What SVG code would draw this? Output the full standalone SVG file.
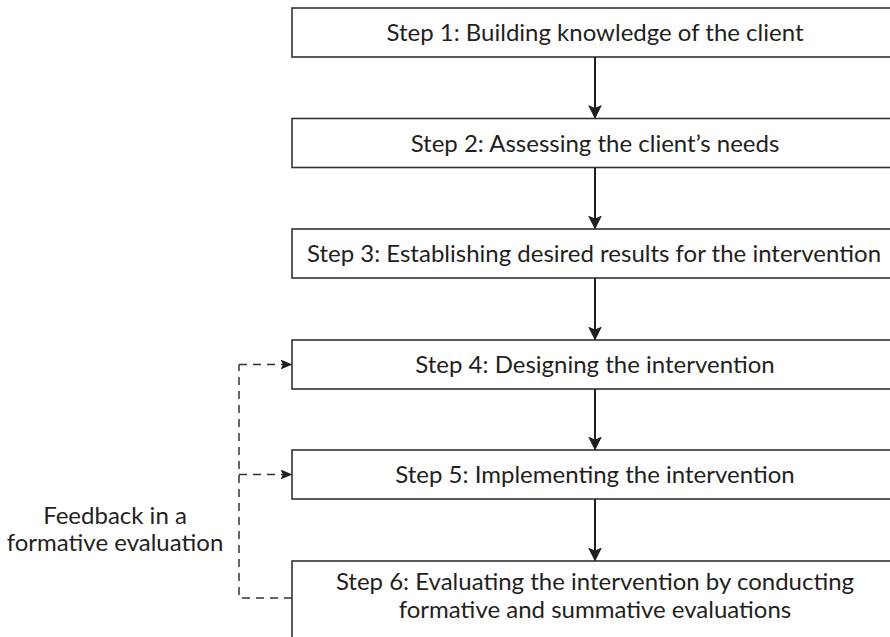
<svg xmlns="http://www.w3.org/2000/svg" width="890" height="637" viewBox="0 0 890 637">
<style>
.box{fill:#fff;stroke:#333;stroke-width:1.6}
.t{font-family:Lato,"Open Sans",sans-serif;font-size:24px;fill:#231f20;text-anchor:middle}
.a{stroke:#231f20;stroke-width:2;fill:none}
.d{stroke:#333;stroke-width:1.5;fill:none;stroke-dasharray:8 6}
</style>
<defs>
<marker id="ah" markerWidth="14" markerHeight="18" refX="13" refY="7" orient="auto" markerUnits="userSpaceOnUse" viewBox="0 0 14 14">
<path d="M0,0 L14,7 L0,14 L3,7 Z" fill="#231f20"/>
</marker>
<marker id="dh" markerWidth="12" markerHeight="10" refX="11" refY="5" orient="auto" markerUnits="userSpaceOnUse" viewBox="0 0 12 10">
<path d="M0,0 L12,5 L0,10 L2.5,5 Z" fill="#231f20"/>
</marker>
</defs>
<g id="n1"><rect class="box" x="292" y="8" width="610" height="49"/><text class="t" x="595" y="41">Step 1: Building knowledge of the client</text></g>
<g id="n2"><rect class="box" x="292" y="118.5" width="610" height="49"/><text class="t" x="595" y="151.5">Step 2: Assessing the client’s needs</text></g>
<g id="n3"><rect class="box" x="292" y="229" width="610" height="49"/><text class="t" x="594" y="262">Step 3: Establishing desired results for the intervention</text></g>
<g id="n4"><rect class="box" x="292" y="340" width="610" height="49"/><text class="t" x="595" y="373">Step 4: Designing the intervention</text></g>
<g id="n5"><rect class="box" x="292" y="450" width="610" height="49"/><text class="t" x="595" y="483">Step 5: Implementing the intervention</text></g>
<g id="n6"><rect class="box" x="292" y="561" width="610" height="100"/><text class="t" x="595" y="590">Step 6: Evaluating the intervention by conducting</text><text class="t" x="595" y="618">formative and summative evaluations</text></g>
<g id="lbl"><text class="t" x="115" y="524">Feedback in a</text><text class="t" x="115" y="551">formative evaluation</text></g>
<g id="connectors">
<line class="a" x1="595" y1="57" x2="595" y2="118" marker-end="url(#ah)"/>
<line class="a" x1="595" y1="167.5" x2="595" y2="228.5" marker-end="url(#ah)"/>
<line class="a" x1="595" y1="278" x2="595" y2="339.5" marker-end="url(#ah)"/>
<line class="a" x1="595" y1="389" x2="595" y2="449.5" marker-end="url(#ah)"/>
<line class="a" x1="595" y1="499" x2="595" y2="560.5" marker-end="url(#ah)"/>
<path class="d" d="M292,598 H239 V364.5"/>
<path class="d" d="M239,364.5 H291.5" marker-end="url(#dh)"/>
<path class="d" d="M239,474.5 H291.5" marker-end="url(#dh)"/>
</g>
</svg>
